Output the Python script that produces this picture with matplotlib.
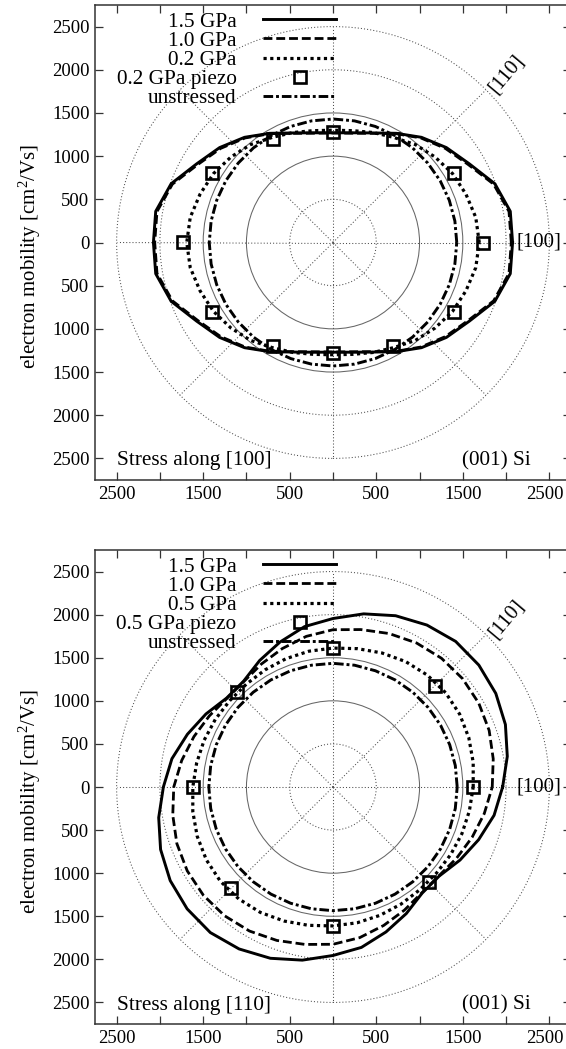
import numpy as np
import matplotlib
matplotlib.use("Agg")
import matplotlib.pyplot as plt
from matplotlib.patches import Circle
from matplotlib.transforms import ScaledTranslation

plt.rcParams["font.family"] = ["Liberation Serif", "DejaVu Serif"]
plt.rcParams["mathtext.fontset"] = "custom"
plt.rcParams["mathtext.rm"] = "Liberation Serif"
plt.rcParams["mathtext.it"] = "Liberation Serif:italic"

# polar angles (deg) where the radii were read, mobility is symmetric under +180 deg
angles_deg = [0, 10, 20, 30, 40, 50, 60, 70, 80, 90, 100, 110, 120, 130, 140, 150, 160, 170]

# --- stress along [100] ---
top_15 = [2075, 2080, 1990, 1820, 1710, 1590, 1460, 1350, 1290, 1270,
          1290, 1350, 1460, 1590, 1710, 1820, 1990, 2080]
top_10 = [2060, 2065, 1975, 1805, 1695, 1580, 1455, 1345, 1285, 1268,
          1285, 1345, 1455, 1580, 1695, 1805, 1975, 2065]
top_02 = [1690, 1675, 1635, 1595, 1540, 1480, 1405, 1355, 1315, 1300,
          1315, 1355, 1405, 1480, 1540, 1595, 1635, 1675]
top_unstr = [1430] * 18
top_piezo_ang = [0, 30, 60, 90, 120, 150, 180, 210, 240, 270, 300, 330]
top_piezo_r = [1735, 1610, 1385, 1280, 1385, 1610, 1735, 1610, 1385, 1280, 1385, 1610]

# --- stress along [110] ---
bot_15 = [1960, 2045, 2120, 2172, 2200, 2205, 2170, 2115, 2040, 1955,
          1890, 1790, 1695, 1605, 1605, 1695, 1790, 1890]
bot_10 = [1840, 1880, 1920, 1945, 1955, 1950, 1930, 1895, 1855, 1825,
          1775, 1710, 1650, 1600, 1600, 1650, 1710, 1775]
bot_05 = [1620, 1645, 1670, 1690, 1700, 1695, 1680, 1655, 1630, 1612,
          1600, 1585, 1570, 1558, 1558, 1570, 1585, 1600]
bot_unstr = [1435] * 18
bot_piezo_ang = [0, 45, 90, 135, 180, 225, 270, 315]
bot_piezo_r = [1620, 1662, 1610, 1563, 1620, 1662, 1610, 1563]

tick_vals = [-2500, -2000, -1500, -1000, -500, 0, 500, 1000, 1500, 2000, 2500]
xtick_text = ["2500", "", "1500", "", "500", "", "500", "", "1500", "", "2500"]
ytick_text = ["2500", "2000", "1500", "1000", "500", "0", "500", "1000", "1500", "2000", "2500"]

styles = {
    "solid": dict(ls="-", lw=2.1),
    "dash": dict(ls=(0, (3.2, 1.4)), lw=2.0),
    "dot": dict(ls=(0, (1, 1.1)), lw=2.3),
    "dashdot": dict(ls=(0, (3.3, 1.0, 1.0, 1.0)), lw=2.1),
}


def to_xy(ang, r):
    a = np.deg2rad(np.concatenate([ang, np.asarray(ang) + 180, [ang[0]]]))
    rr = np.concatenate([r, r, [r[0]]])
    return rr * np.cos(a), rr * np.sin(a)


def draw_panel(ax, series, piezo_ang, piezo_r, labels, stress_text):
    # polar grid
    for rad in [500, 1000, 1500, 2000, 2500]:
        if rad in (1000, 1500):
            c = Circle((0, 0), rad, fill=False, ec="0.4", lw=0.75, zorder=1)
        else:
            c = Circle((0, 0), rad, fill=False, ec="0.3", lw=0.75, ls=(0, (1, 2)), zorder=1)
        ax.add_patch(c)
    for a in range(0, 360, 45):
        ax.plot([0, 2500 * np.cos(np.deg2rad(a))], [0, 2500 * np.sin(np.deg2rad(a))],
                color="0.3", lw=0.75, ls=(0, (1, 2)), zorder=1)

    for (vals, sty), lab in zip(series[:3], labels[:3]):
        x, y = to_xy(angles_deg, vals)
        ax.plot(x, y, color="black", label=lab, zorder=3, **styles[sty])
    pa = np.deg2rad(piezo_ang)
    ax.plot(np.array(piezo_r) * np.cos(pa), np.array(piezo_r) * np.sin(pa), ls="none",
            marker="s", ms=8, mfc="none", mec="black", mew=1.9, label=labels[3], zorder=4)
    x, y = to_xy(angles_deg, series[3][0])
    ax.plot(x, y, color="black", label=labels[4], zorder=3, **styles[series[3][1]])

    ax.set_xlim(-2750, 2750)
    ax.set_ylim(-2750, 2750)
    ax.set_xticks(tick_vals)
    ax.set_xticklabels(xtick_text)
    ax.set_yticks(tick_vals)
    ax.set_yticklabels(ytick_text)
    ax.tick_params(direction="in", length=6, width=0.9, top=True, right=True,
                   labelsize=13.5, pad=4, colors="0.2", labelcolor="black")
    # last label sits at the picture edge, nudge it a little to the left
    last = ax.get_xticklabels()[-1]
    last.set_transform(last.get_transform() + ScaledTranslation(-4 / 100, 0, fig.dpi_scale_trans))
    for s in ax.spines.values():
        s.set_linewidth(1.1)
        s.set_color("0.2")
    ax.set_ylabel("electron mobility [cm$^2$/Vs]", fontsize=15)
    ax.yaxis.set_label_coords(-0.11, 0.47)

    ax.text(2000, 1950, "[110]", rotation=50, ha="center", va="center", fontsize=15)
    ax.text(2120, 0, "[100]", ha="left", va="center", fontsize=15)
    ax.text(-2500, -2530, stress_text, ha="left", va="center", fontsize=15.3)
    ax.text(2290, -2530, "(001) Si", ha="right", va="center", fontsize=15.3)

    ax.legend(loc="upper right", bbox_to_anchor=(0.507, 0.986), markerfirst=False,
              frameon=False, fontsize=15.3, handlelength=3.43, handletextpad=1.27,
              labelspacing=-0.03, borderpad=0, borderaxespad=0)


fig = plt.figure(figsize=(5.66, 10.49), dpi=100)
ax1 = fig.add_axes([95 / 566, 1 - 480 / 1049, 476 / 566, 475 / 1049])
ax2 = fig.add_axes([95 / 566, 1 - 1024 / 1049, 476 / 566, 474 / 1049])

draw_panel(ax1,
           [(top_15, "solid"), (top_10, "dash"), (top_02, "dot"), (top_unstr, "dashdot")],
           top_piezo_ang, top_piezo_r,
           ["1.5 GPa", "1.0 GPa", "0.2 GPa", "0.2 GPa piezo", "unstressed"],
           "Stress along [100]")
draw_panel(ax2,
           [(bot_15, "solid"), (bot_10, "dash"), (bot_05, "dot"), (bot_unstr, "dashdot")],
           bot_piezo_ang, bot_piezo_r,
           ["1.5 GPa", "1.0 GPa", "0.5 GPa", "0.5 GPa piezo", "unstressed"],
           "Stress along [110]")

fig.savefig("out.png", dpi=100)
